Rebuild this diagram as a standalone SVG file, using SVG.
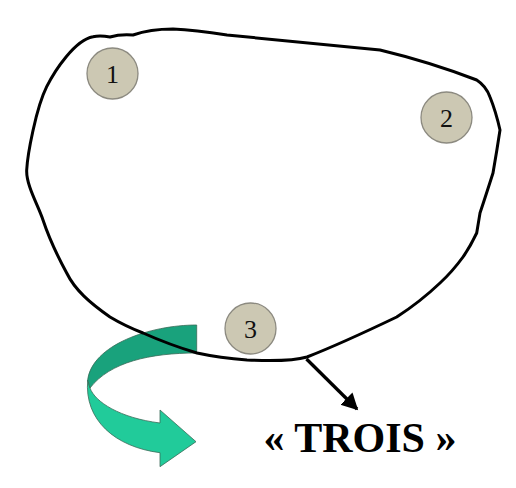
<svg xmlns="http://www.w3.org/2000/svg" width="516" height="488" viewBox="0 0 516 488">
<style>
.num{font-family:"Liberation Serif","Times New Roman",serif;font-size:26px;fill:#111;text-anchor:middle}
.dot{fill:#ccc8b3;stroke:#8c8a80;stroke-width:1.3}
.lbl{font-family:"Liberation Serif","Times New Roman",serif;font-size:42px;font-weight:bold;fill:#000;text-anchor:middle}
</style>
<defs>
<marker id="ah" markerWidth="6" markerHeight="6" refX="4.5" refY="3" orient="auto" markerUnits="strokeWidth">
<path d="M0,0.4 L5,3 L0,5.6 Z" fill="#000"/>
</marker>
</defs>
<rect width="516" height="488" fill="#fff"/>
<g id="turn-arrow" stroke="#3a6b58" stroke-width="0.8">
<path d="M160,423 C120,418 95,402 90,388 L87.7,380 C84,420 115,447 160,452.7 L160,466.7 L196,441.7 L160,410 Z" fill="#21cb9a"/>
<path d="M196.7,325 C150,325 92,345 87.7,380 L90,388 C110,362 150,353 196.7,353 Z" fill="#19a27c"/>
</g>
<g id="blob">
<path d="M93,36.7 Q100,35 110,37 Q120,34 133,35 Q150,29 173,29 Q195,30 227,35 L380,50 Q430,62 476.7,80 Q486,86 490,97 Q496,112 500,130 Q497,150 493,173 Q486,195 480,213 Q478,225 476.7,233 Q470,247 463,257 Q452,272 440,283 Q420,302 396.7,317 C380,325 330,348 307,357 Q290,362 247,360 Q220,358 197,353 Q170,345 143,333 Q125,326 110,317 C90,303 75,290 66.7,273 C58,257 48,235 43,220 C38,205 26,185 26.7,170 C27.4,155 36,108 46.7,86.7 C55,70 75,40 93,36.7 Z" fill="none" stroke="#000" stroke-width="3"/>
</g>
<g id="node1"><circle class="dot" cx="112.5" cy="73.5" r="25.5"/><text class="num" x="112.5" y="82.5">1</text></g>
<g id="node2"><circle class="dot" cx="446.5" cy="117.5" r="25.5"/><text class="num" x="446.5" y="126.5">2</text></g>
<g id="node3"><circle class="dot" cx="250.5" cy="328.5" r="25.5"/><text class="num" x="250.5" y="337.5">3</text></g>
<g id="connectors">
<line x1="306.5" y1="359" x2="357" y2="409" stroke="#000" stroke-width="3.3" marker-end="url(#ah)"/>
</g>
<g id="label"><text class="lbl" x="360" y="452">« TROIS »</text></g>
</svg>
